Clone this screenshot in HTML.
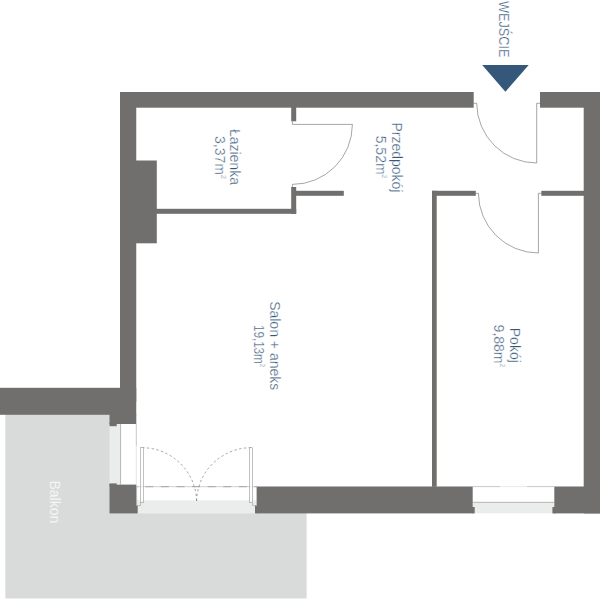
<!DOCTYPE html>
<html lang="pl">
<head>
<meta charset="utf-8">
<title>Plan mieszkania</title>
<style>
html,body{margin:0;padding:0;background:#fff;}
body{width:600px;height:600px;overflow:hidden;}
svg{display:block;}
text{font-family:"Liberation Sans",sans-serif;font-size:14px;fill:#35577a;stroke:#ffffff;stroke-width:0.32px;}
.thin{fill:none;stroke:#6b6a6a;stroke-width:0.6;}
.wall{fill:#706f6e;}
</style>
</head>
<body>
<svg width="600" height="600" viewBox="0 0 600 600">
<rect width="600" height="600" fill="#ffffff"/>

<!-- balcony -->
<path d="M5.3 414 H110 V513 H306.6 V598.6 H5.3 Z" fill="#d9dbda"/>

<!-- balcony door opening -->
<rect x="136" y="486.5" width="121.5" height="14" fill="#ffffff"/>
<rect x="136" y="500.3" width="121.5" height="13.2" fill="#ebecec"/>

<!-- left balcony window (vertical) -->
<rect x="109.5" y="424" width="11" height="60" fill="#ebecec"/>
<rect x="120.8" y="424" width="15.6" height="60.5" fill="#ffffff"/>
<line x1="120.6" y1="424" x2="120.6" y2="484.5" stroke="#a3a3a3" stroke-width="0.8"/>
<line x1="136.3" y1="424" x2="136.3" y2="446" stroke="#a3a3a3" stroke-width="0.6"/>
<line x1="136.3" y1="446" x2="136.3" y2="486" stroke="#d5d5d5" stroke-width="0.6"/>

<!-- right window (bottom wall) -->
<rect x="472.7" y="486.5" width="81.6" height="15.5" fill="#ffffff"/>
<rect x="472.7" y="502.3" width="81.6" height="11" fill="#ebecec"/>
<line x1="472.7" y1="502.3" x2="554.3" y2="502.3" stroke="#a3a3a3" stroke-width="0.8"/>
<line x1="472.7" y1="486.6" x2="500" y2="486.6" stroke="#a3a3a3" stroke-width="0.6"/>
<line x1="500" y1="486.6" x2="527" y2="486.6" stroke="#dcdcdc" stroke-width="0.6"/>
<line x1="527" y1="486.6" x2="554.3" y2="486.6" stroke="#a3a3a3" stroke-width="0.6"/>

<!-- walls -->
<g class="wall">
  <!-- top wall -->
  <rect x="120" y="92" width="353.7" height="15.7"/>
  <rect x="540" y="92" width="60" height="15.7"/>
  <!-- left wall -->
  <rect x="120" y="92" width="16.25" height="310"/>
  <rect x="136" y="160.5" width="20.8" height="82.8"/>
  <!-- left bottom horizontal -->
  <rect x="0" y="387.8" width="136.25" height="27"/>
  <rect x="109.5" y="414" width="26.8" height="10"/>
  <rect x="109.5" y="423" width="7.2" height="3.2"/>
  <rect x="109.5" y="484.6" width="26.8" height="28.8"/>
  <rect x="109.5" y="483.4" width="7.2" height="3"/>
  <rect x="136" y="505.6" width="1.7" height="7.8"/>
  <!-- right wall -->
  <rect x="583.7" y="92" width="16.3" height="421.4"/>
  <!-- bottom wall -->
  <rect x="257" y="486.5" width="215.7" height="26.9"/>
  <rect x="255" y="505.6" width="3" height="7.8"/>
  <rect x="472" y="507" width="2.7" height="6.4"/>
  <rect x="554.3" y="486.5" width="45.7" height="26.9"/>
  <rect x="552.4" y="507" width="3" height="6.4"/>
  <!-- bathroom walls -->
  <rect x="156" y="208.8" width="140.2" height="5"/>
  <rect x="291.2" y="187" width="5" height="26.8"/>
  <rect x="291.2" y="107" width="5" height="14.3"/>
  <rect x="295" y="190.8" width="48.8" height="5"/>
  <!-- room walls -->
  <rect x="432" y="190.8" width="4.7" height="296"/>
  <rect x="432" y="190.8" width="43.8" height="5"/>
  <rect x="541.3" y="190.8" width="43" height="5"/>
</g>

<!-- bathroom door -->
<path class="thin" d="M292.4 121.3 V124.4 H352.4 A60 60 0 0 1 292.4 184.4 V187"/>
<!-- entry door -->
<path class="thin" d="M473.7 103.3 H476.7 A60 60 0 0 0 536.7 163 V103.3 H540"/>
<!-- room door -->
<path class="thin" d="M475.8 193.3 H478.4 A60 60 0 0 0 538.4 253 V193.3 H541.3"/>

<!-- balcony door -->
<line x1="136.5" y1="486.7" x2="257" y2="486.7" stroke="#8a8a8a" stroke-width="0.4"/>
<line x1="137" y1="486.7" x2="257" y2="486.7" stroke="#8f8f8f" stroke-width="0.7" stroke-dasharray="8 7.6" stroke-dashoffset="7.3"/>
<path class="thin" style="stroke-dasharray:2.4 2.4" d="M142.1 447.7 A54.6 54.6 0 0 1 196.6 502.4"/>
<path class="thin" style="stroke-dasharray:2.4 2.4" d="M251 447.7 A54.6 54.6 0 0 0 196.6 502.4"/>
<path class="thin" style="stroke:#999999" d="M136.6 486.7 V505.6 H140.5 V502.4"/>
<rect x="140.5" y="447.7" width="3.2" height="54.7" fill="#ffffff" fill-opacity="0.6" stroke="#999999" stroke-width="0.6"/>
<path class="thin" style="stroke:#999999" d="M256.6 486.7 V505.6 H252.6 V502.4"/>
<rect x="249.4" y="447.7" width="3.2" height="54.7" fill="#ffffff" fill-opacity="0.6" stroke="#999999" stroke-width="0.6"/>

<!-- entrance arrow -->
<polygon points="482.2,65 528.7,65 505.4,91.8" fill="#35577a"/>

<!-- labels -->
<text transform="translate(498.5 29.2) rotate(90)" text-anchor="middle" textLength="56.3" lengthAdjust="spacingAndGlyphs" style="font-size:15px">WEJŚCIE</text>

<text transform="translate(230.3 156.9) rotate(90)" text-anchor="middle">Łazienka</text>
<text transform="translate(214.5 157.4) rotate(90)" text-anchor="middle">3,37m<tspan dy="-6" style="font-size:7px">2</tspan></text>

<text transform="translate(392 157.4) rotate(90)" text-anchor="middle">Przedpokój</text>
<text transform="translate(375.5 157.1) rotate(90)" text-anchor="middle">5,52m<tspan dy="-6" style="font-size:7px">2</tspan></text>

<text transform="translate(269.6 345.7) rotate(90)" text-anchor="middle">Salon + aneks</text>
<text transform="translate(253.6 346) rotate(90)" text-anchor="middle" textLength="42" lengthAdjust="spacingAndGlyphs">19,13m<tspan dy="-6" style="font-size:7px">2</tspan></text>

<text transform="translate(510.1 345.3) rotate(90)" text-anchor="middle">Pokój</text>
<text transform="translate(493.8 346) rotate(90)" text-anchor="middle">9,88m<tspan dy="-6" style="font-size:7px">2</tspan></text>

<text transform="translate(49.7 501.8) rotate(90)" text-anchor="middle" style="fill:#f4f5f5;stroke:none">Balkon</text>
</svg>
</body>
</html>
